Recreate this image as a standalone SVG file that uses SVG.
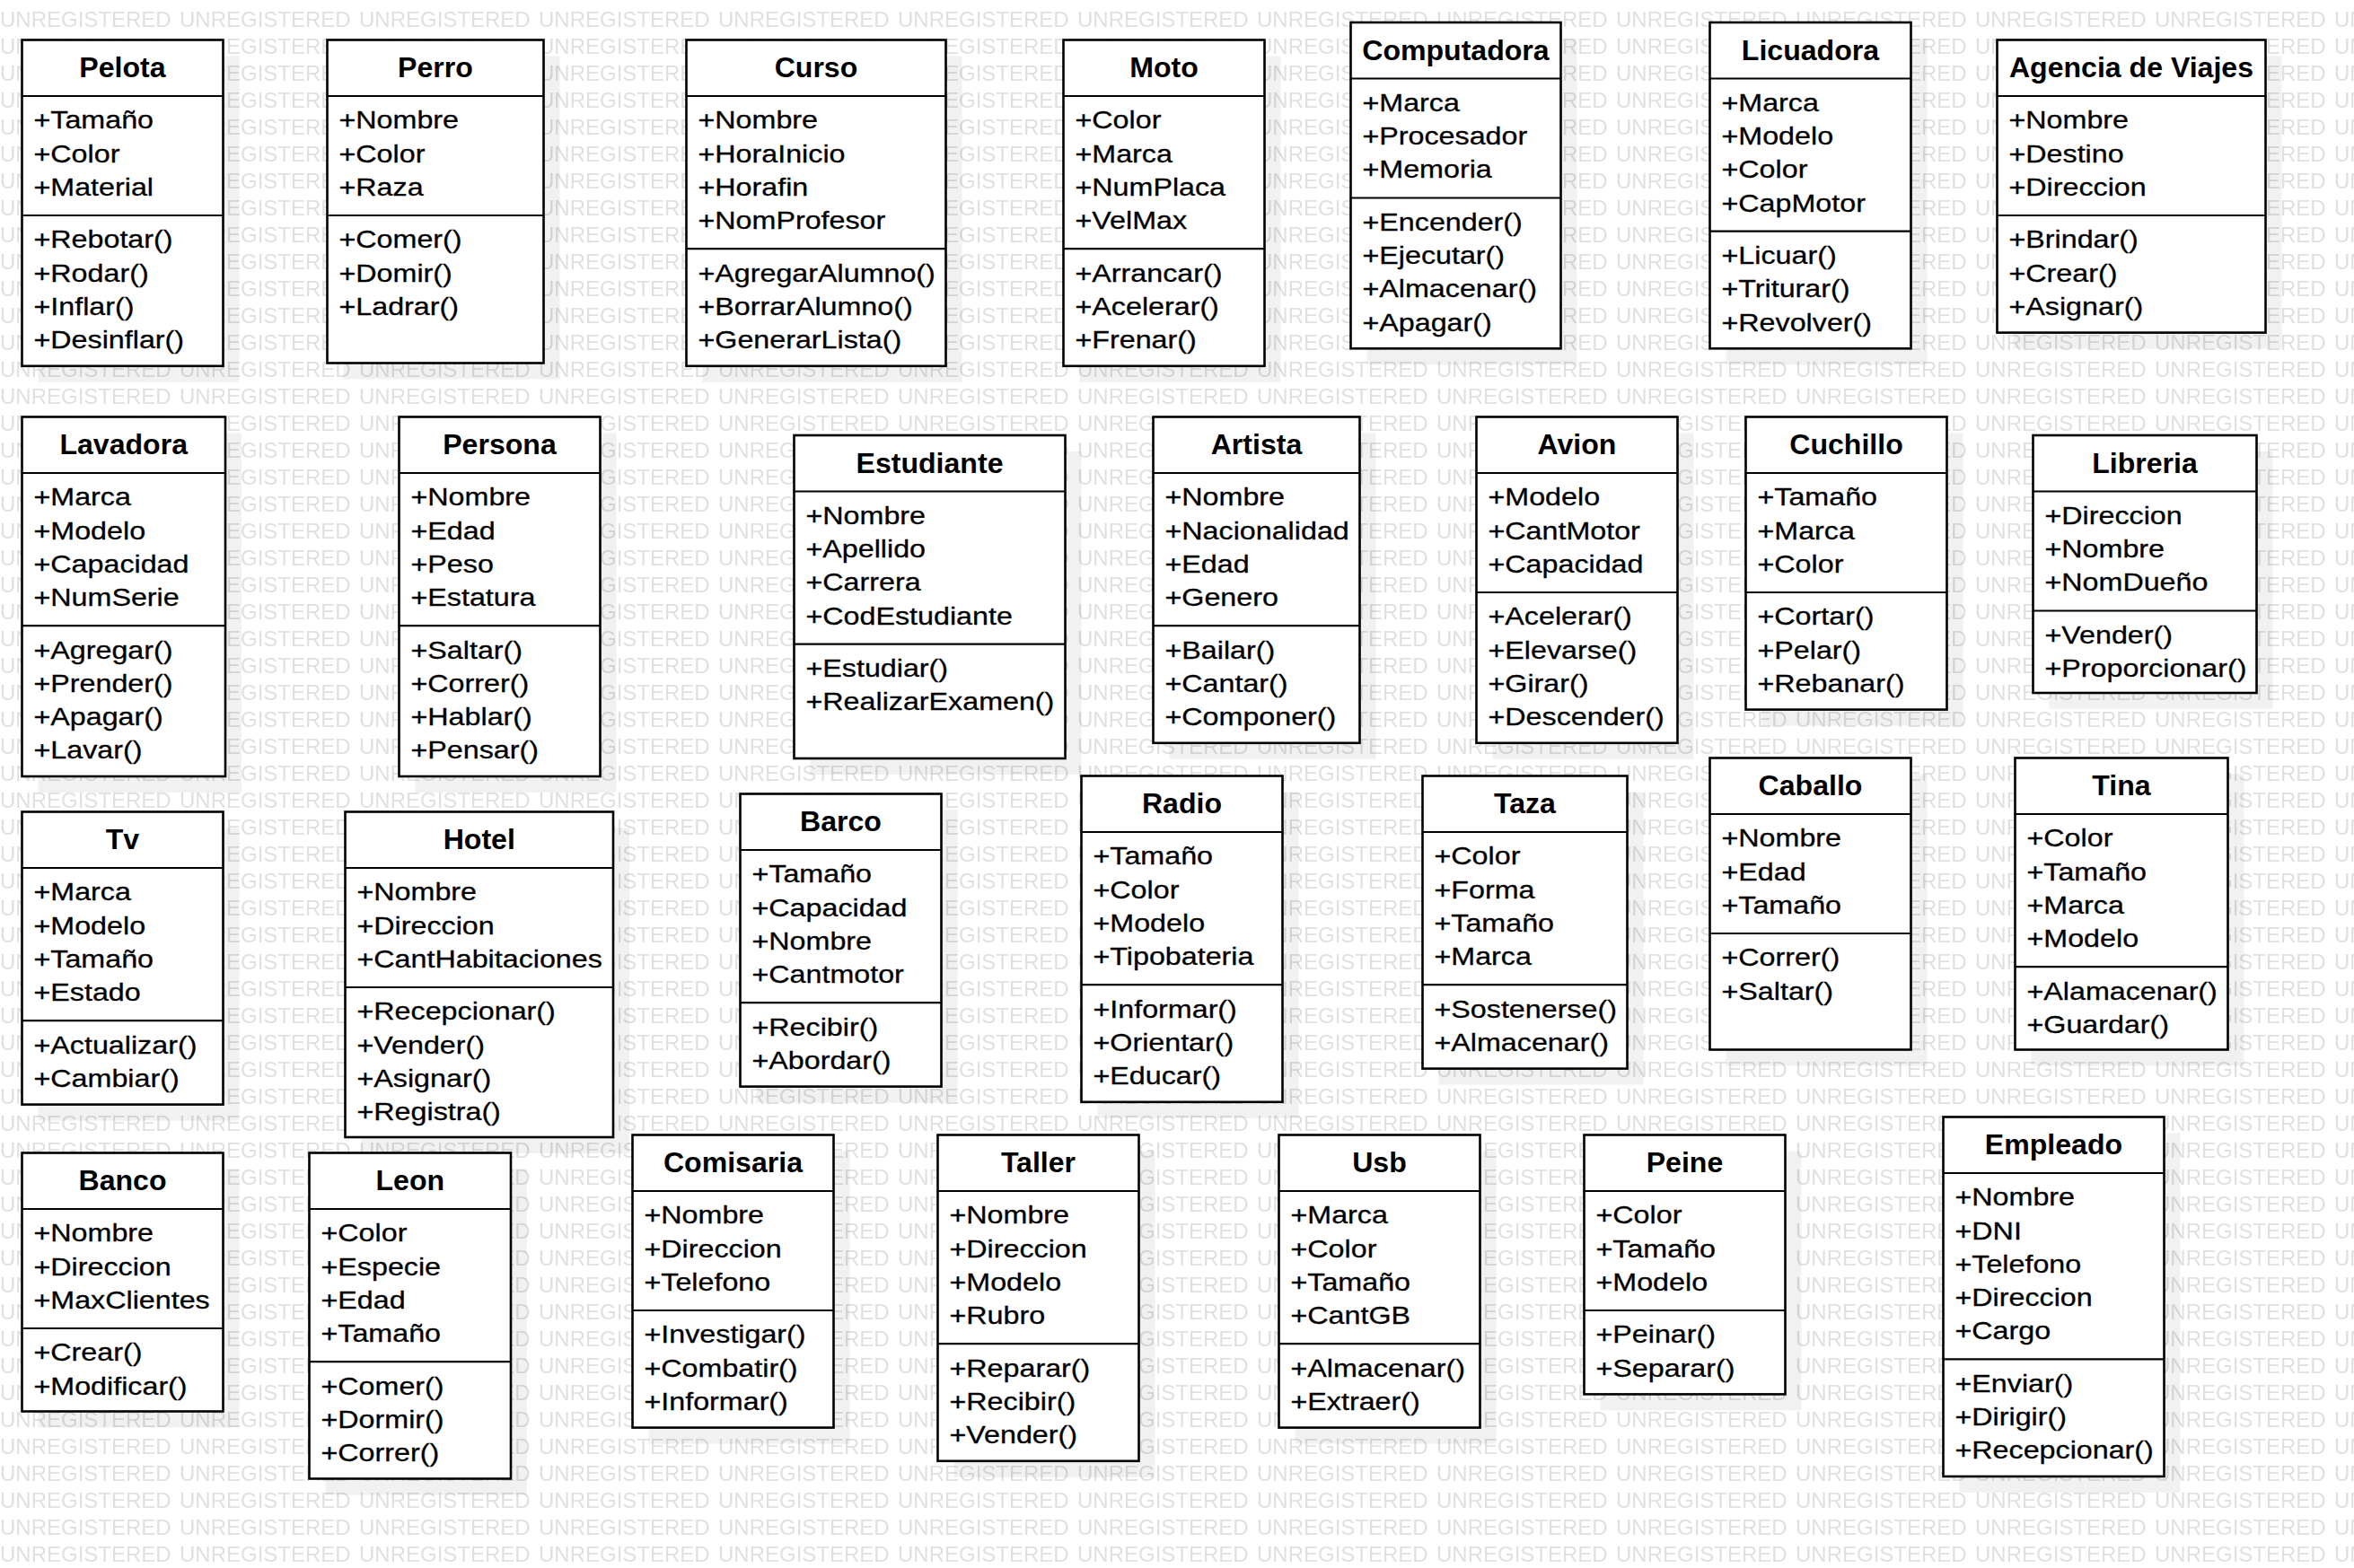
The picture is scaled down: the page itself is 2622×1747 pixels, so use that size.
<svg xmlns="http://www.w3.org/2000/svg" width="2622" height="1747" viewBox="0 0 2622 1747">
<defs>
<style>
.box{fill:#fff;stroke:#000;stroke-width:2.6}
.sh{fill:#000;fill-opacity:.055}
.sep{stroke:#000;stroke-width:2.2;fill:none}
.t{font-family:"Liberation Sans",Arial,sans-serif;font-size:31px;font-weight:bold;text-anchor:middle;fill:#000}
.a{font-family:"Liberation Sans",Arial,sans-serif;font-size:28.3px;fill:#000;stroke:#000;stroke-width:0.3}
.wm{font-family:"Liberation Sans",Arial,sans-serif;font-size:24px;fill:#e0e0e0}
</style>
<pattern id="wm" patternUnits="userSpaceOnUse" x="0" y="0" width="200" height="30">
<text class="wm" x="0" y="30">UNREGISTERED</text>
</pattern>
</defs>
<rect width="2622" height="1747" fill="#fff"/>
<rect width="2622" height="1747" fill="url(#wm)"/>
<g id="connectors"/>

<g id="pelota" transform="translate(24.5,44.5)">
<rect class="sh" x="18" y="18" width="224" height="363.3"/><rect class="box" width="224" height="363.3"/>
<path class="sep" d="M0 62.5H224M0 195.5H224"/>
<text class="t" transform="scale(1.035,1)" x="108.2" y="42">Pelota</text>
<text class="a" transform="scale(1.14,1)"><tspan x="11.4" y="99">+Tamaño</tspan><tspan x="11.4" y="136.2">+Color</tspan><tspan x="11.4" y="173.4">+Material</tspan><tspan x="11.4" y="232">+Rebotar()</tspan><tspan x="11.4" y="269.2">+Rodar()</tspan><tspan x="11.4" y="306.4">+Inflar()</tspan><tspan x="11.4" y="343.6">+Desinflar()</tspan></text>
</g>

<g id="perro" transform="translate(364.5,44.5)">
<rect class="sh" x="18" y="18" width="241" height="360"/><rect class="box" width="241" height="360"/>
<path class="sep" d="M0 62.5H241M0 195.5H241"/>
<text class="t" transform="scale(1.035,1)" x="116.4" y="42">Perro</text>
<text class="a" transform="scale(1.14,1)"><tspan x="11.4" y="99">+Nombre</tspan><tspan x="11.4" y="136.2">+Color</tspan><tspan x="11.4" y="173.4">+Raza</tspan><tspan x="11.4" y="232">+Comer()</tspan><tspan x="11.4" y="269.2">+Domir()</tspan><tspan x="11.4" y="306.4">+Ladrar()</tspan></text>
</g>

<g id="curso" transform="translate(764.5,44.5)">
<rect class="sh" x="18" y="18" width="289" height="363.3"/><rect class="box" width="289" height="363.3"/>
<path class="sep" d="M0 62.5H289M0 232.7H289"/>
<text class="t" transform="scale(1.035,1)" x="139.6" y="42">Curso</text>
<text class="a" transform="scale(1.14,1)"><tspan x="11.4" y="99">+Nombre</tspan><tspan x="11.4" y="136.2">+HoraInicio</tspan><tspan x="11.4" y="173.4">+Horafin</tspan><tspan x="11.4" y="210.6">+NomProfesor</tspan><tspan x="11.4" y="269.2">+AgregarAlumno()</tspan><tspan x="11.4" y="306.4">+BorrarAlumno()</tspan><tspan x="11.4" y="343.6">+GenerarLista()</tspan></text>
</g>

<g id="moto" transform="translate(1184.5,44.5)">
<rect class="sh" x="18" y="18" width="224" height="363.3"/><rect class="box" width="224" height="363.3"/>
<path class="sep" d="M0 62.5H224M0 232.7H224"/>
<text class="t" transform="scale(1.035,1)" x="108.2" y="42">Moto</text>
<text class="a" transform="scale(1.14,1)"><tspan x="11.4" y="99">+Color</tspan><tspan x="11.4" y="136.2">+Marca</tspan><tspan x="11.4" y="173.4">+NumPlaca</tspan><tspan x="11.4" y="210.6">+VelMax</tspan><tspan x="11.4" y="269.2">+Arrancar()</tspan><tspan x="11.4" y="306.4">+Acelerar()</tspan><tspan x="11.4" y="343.6">+Frenar()</tspan></text>
</g>

<g id="computadora" transform="translate(1504.5,25)">
<rect class="sh" x="18" y="18" width="234" height="363.3"/><rect class="box" width="234" height="363.3"/>
<path class="sep" d="M0 62.5H234M0 195.5H234"/>
<text class="t" transform="scale(1.035,1)" x="113" y="42">Computadora</text>
<text class="a" transform="scale(1.14,1)"><tspan x="11.4" y="99">+Marca</tspan><tspan x="11.4" y="136.2">+Procesador</tspan><tspan x="11.4" y="173.4">+Memoria</tspan><tspan x="11.4" y="232">+Encender()</tspan><tspan x="11.4" y="269.2">+Ejecutar()</tspan><tspan x="11.4" y="306.4">+Almacenar()</tspan><tspan x="11.4" y="343.6">+Apagar()</tspan></text>
</g>

<g id="licuadora" transform="translate(1904.5,25)">
<rect class="sh" x="18" y="18" width="224" height="363.3"/><rect class="box" width="224" height="363.3"/>
<path class="sep" d="M0 62.5H224M0 232.7H224"/>
<text class="t" transform="scale(1.035,1)" x="108.2" y="42">Licuadora</text>
<text class="a" transform="scale(1.14,1)"><tspan x="11.4" y="99">+Marca</tspan><tspan x="11.4" y="136.2">+Modelo</tspan><tspan x="11.4" y="173.4">+Color</tspan><tspan x="11.4" y="210.6">+CapMotor</tspan><tspan x="11.4" y="269.2">+Licuar()</tspan><tspan x="11.4" y="306.4">+Triturar()</tspan><tspan x="11.4" y="343.6">+Revolver()</tspan></text>
</g>

<g id="agencia-de-viajes" transform="translate(2224.5,44.5)">
<rect class="sh" x="18" y="18" width="299" height="326.1"/><rect class="box" width="299" height="326.1"/>
<path class="sep" d="M0 62.5H299M0 195.5H299"/>
<text class="t" transform="scale(1.035,1)" x="144.4" y="42">Agencia de Viajes</text>
<text class="a" transform="scale(1.14,1)"><tspan x="11.4" y="99">+Nombre</tspan><tspan x="11.4" y="136.2">+Destino</tspan><tspan x="11.4" y="173.4">+Direccion</tspan><tspan x="11.4" y="232">+Brindar()</tspan><tspan x="11.4" y="269.2">+Crear()</tspan><tspan x="11.4" y="306.4">+Asignar()</tspan></text>
</g>

<g id="lavadora" transform="translate(24.5,464.5)">
<rect class="sh" x="18" y="18" width="226.5" height="400.5"/><rect class="box" width="226.5" height="400.5"/>
<path class="sep" d="M0 62.5H226.5M0 232.7H226.5"/>
<text class="t" transform="scale(1.035,1)" x="109.4" y="42">Lavadora</text>
<text class="a" transform="scale(1.14,1)"><tspan x="11.4" y="99">+Marca</tspan><tspan x="11.4" y="136.2">+Modelo</tspan><tspan x="11.4" y="173.4">+Capacidad</tspan><tspan x="11.4" y="210.6">+NumSerie</tspan><tspan x="11.4" y="269.2">+Agregar()</tspan><tspan x="11.4" y="306.4">+Prender()</tspan><tspan x="11.4" y="343.6">+Apagar()</tspan><tspan x="11.4" y="380.8">+Lavar()</tspan></text>
</g>

<g id="persona" transform="translate(444.5,464.5)">
<rect class="sh" x="18" y="18" width="224" height="400.5"/><rect class="box" width="224" height="400.5"/>
<path class="sep" d="M0 62.5H224M0 232.7H224"/>
<text class="t" transform="scale(1.035,1)" x="108.2" y="42">Persona</text>
<text class="a" transform="scale(1.14,1)"><tspan x="11.4" y="99">+Nombre</tspan><tspan x="11.4" y="136.2">+Edad</tspan><tspan x="11.4" y="173.4">+Peso</tspan><tspan x="11.4" y="210.6">+Estatura</tspan><tspan x="11.4" y="269.2">+Saltar()</tspan><tspan x="11.4" y="306.4">+Correr()</tspan><tspan x="11.4" y="343.6">+Hablar()</tspan><tspan x="11.4" y="380.8">+Pensar()</tspan></text>
</g>

<g id="estudiante" transform="translate(884.5,485)">
<rect class="sh" x="18" y="18" width="302" height="360"/><rect class="box" width="302" height="360"/>
<path class="sep" d="M0 62.5H302M0 232.7H302"/>
<text class="t" transform="scale(1.035,1)" x="145.9" y="42">Estudiante</text>
<text class="a" transform="scale(1.14,1)"><tspan x="11.4" y="99">+Nombre</tspan><tspan x="11.4" y="136.2">+Apellido</tspan><tspan x="11.4" y="173.4">+Carrera</tspan><tspan x="11.4" y="210.6">+CodEstudiante</tspan><tspan x="11.4" y="269.2">+Estudiar()</tspan><tspan x="11.4" y="306.4">+RealizarExamen()</tspan></text>
</g>

<g id="artista" transform="translate(1284.5,464.5)">
<rect class="sh" x="18" y="18" width="230" height="363.3"/><rect class="box" width="230" height="363.3"/>
<path class="sep" d="M0 62.5H230M0 232.7H230"/>
<text class="t" transform="scale(1.035,1)" x="111.1" y="42">Artista</text>
<text class="a" transform="scale(1.14,1)"><tspan x="11.4" y="99">+Nombre</tspan><tspan x="11.4" y="136.2">+Nacionalidad</tspan><tspan x="11.4" y="173.4">+Edad</tspan><tspan x="11.4" y="210.6">+Genero</tspan><tspan x="11.4" y="269.2">+Bailar()</tspan><tspan x="11.4" y="306.4">+Cantar()</tspan><tspan x="11.4" y="343.6">+Componer()</tspan></text>
</g>

<g id="avion" transform="translate(1644.5,464.5)">
<rect class="sh" x="18" y="18" width="224" height="363.3"/><rect class="box" width="224" height="363.3"/>
<path class="sep" d="M0 62.5H224M0 195.5H224"/>
<text class="t" transform="scale(1.035,1)" x="108.2" y="42">Avion</text>
<text class="a" transform="scale(1.14,1)"><tspan x="11.4" y="99">+Modelo</tspan><tspan x="11.4" y="136.2">+CantMotor</tspan><tspan x="11.4" y="173.4">+Capacidad</tspan><tspan x="11.4" y="232">+Acelerar()</tspan><tspan x="11.4" y="269.2">+Elevarse()</tspan><tspan x="11.4" y="306.4">+Girar()</tspan><tspan x="11.4" y="343.6">+Descender()</tspan></text>
</g>

<g id="cuchillo" transform="translate(1944.5,464.5)">
<rect class="sh" x="18" y="18" width="224" height="326.1"/><rect class="box" width="224" height="326.1"/>
<path class="sep" d="M0 62.5H224M0 195.5H224"/>
<text class="t" transform="scale(1.035,1)" x="108.2" y="42">Cuchillo</text>
<text class="a" transform="scale(1.14,1)"><tspan x="11.4" y="99">+Tamaño</tspan><tspan x="11.4" y="136.2">+Marca</tspan><tspan x="11.4" y="173.4">+Color</tspan><tspan x="11.4" y="232">+Cortar()</tspan><tspan x="11.4" y="269.2">+Pelar()</tspan><tspan x="11.4" y="306.4">+Rebanar()</tspan></text>
</g>

<g id="libreria" transform="translate(2264.5,485)">
<rect class="sh" x="18" y="18" width="249" height="287"/><rect class="box" width="249" height="287"/>
<path class="sep" d="M0 62.5H249M0 195.5H249"/>
<text class="t" transform="scale(1.035,1)" x="120.3" y="42">Libreria</text>
<text class="a" transform="scale(1.14,1)"><tspan x="11.4" y="99">+Direccion</tspan><tspan x="11.4" y="136.2">+Nombre</tspan><tspan x="11.4" y="173.4">+NomDueño</tspan><tspan x="11.4" y="232">+Vender()</tspan><tspan x="11.4" y="269.2">+Proporcionar()</tspan></text>
</g>

<g id="tv" transform="translate(24.5,904.5)">
<rect class="sh" x="18" y="18" width="224" height="326.1"/><rect class="box" width="224" height="326.1"/>
<path class="sep" d="M0 62.5H224M0 232.7H224"/>
<text class="t" transform="scale(1.035,1)" x="108.2" y="42">Tv</text>
<text class="a" transform="scale(1.14,1)"><tspan x="11.4" y="99">+Marca</tspan><tspan x="11.4" y="136.2">+Modelo</tspan><tspan x="11.4" y="173.4">+Tamaño</tspan><tspan x="11.4" y="210.6">+Estado</tspan><tspan x="11.4" y="269.2">+Actualizar()</tspan><tspan x="11.4" y="306.4">+Cambiar()</tspan></text>
</g>

<g id="hotel" transform="translate(384.5,904.5)">
<rect class="sh" x="18" y="18" width="298.5" height="362.5"/><rect class="box" width="298.5" height="362.5"/>
<path class="sep" d="M0 62.5H298.5M0 195.5H298.5"/>
<text class="t" transform="scale(1.035,1)" x="144.2" y="42">Hotel</text>
<text class="a" transform="scale(1.14,1)"><tspan x="11.4" y="99">+Nombre</tspan><tspan x="11.4" y="136.2">+Direccion</tspan><tspan x="11.4" y="173.4">+CantHabitaciones</tspan><tspan x="11.4" y="232">+Recepcionar()</tspan><tspan x="11.4" y="269.2">+Vender()</tspan><tspan x="11.4" y="306.4">+Asignar()</tspan><tspan x="11.4" y="343.6">+Registra()</tspan></text>
</g>

<g id="barco" transform="translate(824.5,884.5)">
<rect class="sh" x="18" y="18" width="224" height="326.1"/><rect class="box" width="224" height="326.1"/>
<path class="sep" d="M0 62.5H224M0 232.7H224"/>
<text class="t" transform="scale(1.035,1)" x="108.2" y="42">Barco</text>
<text class="a" transform="scale(1.14,1)"><tspan x="11.4" y="99">+Tamaño</tspan><tspan x="11.4" y="136.2">+Capacidad</tspan><tspan x="11.4" y="173.4">+Nombre</tspan><tspan x="11.4" y="210.6">+Cantmotor</tspan><tspan x="11.4" y="269.2">+Recibir()</tspan><tspan x="11.4" y="306.4">+Abordar()</tspan></text>
</g>

<g id="radio" transform="translate(1204.5,864.5)">
<rect class="sh" x="18" y="18" width="224" height="363.3"/><rect class="box" width="224" height="363.3"/>
<path class="sep" d="M0 62.5H224M0 232.7H224"/>
<text class="t" transform="scale(1.035,1)" x="108.2" y="42">Radio</text>
<text class="a" transform="scale(1.14,1)"><tspan x="11.4" y="99">+Tamaño</tspan><tspan x="11.4" y="136.2">+Color</tspan><tspan x="11.4" y="173.4">+Modelo</tspan><tspan x="11.4" y="210.6">+Tipobateria</tspan><tspan x="11.4" y="269.2">+Informar()</tspan><tspan x="11.4" y="306.4">+Orientar()</tspan><tspan x="11.4" y="343.6">+Educar()</tspan></text>
</g>

<g id="taza" transform="translate(1584.5,864.5)">
<rect class="sh" x="18" y="18" width="228" height="326.1"/><rect class="box" width="228" height="326.1"/>
<path class="sep" d="M0 62.5H228M0 232.7H228"/>
<text class="t" transform="scale(1.035,1)" x="110.1" y="42">Taza</text>
<text class="a" transform="scale(1.14,1)"><tspan x="11.4" y="99">+Color</tspan><tspan x="11.4" y="136.2">+Forma</tspan><tspan x="11.4" y="173.4">+Tamaño</tspan><tspan x="11.4" y="210.6">+Marca</tspan><tspan x="11.4" y="269.2">+Sostenerse()</tspan><tspan x="11.4" y="306.4">+Almacenar()</tspan></text>
</g>

<g id="caballo" transform="translate(1904.5,844.5)">
<rect class="sh" x="18" y="18" width="224" height="325"/><rect class="box" width="224" height="325"/>
<path class="sep" d="M0 62.5H224M0 195.5H224"/>
<text class="t" transform="scale(1.035,1)" x="108.2" y="42">Caballo</text>
<text class="a" transform="scale(1.14,1)"><tspan x="11.4" y="99">+Nombre</tspan><tspan x="11.4" y="136.2">+Edad</tspan><tspan x="11.4" y="173.4">+Tamaño</tspan><tspan x="11.4" y="232">+Correr()</tspan><tspan x="11.4" y="269.2">+Saltar()</tspan></text>
</g>

<g id="tina" transform="translate(2244.5,844.5)">
<rect class="sh" x="18" y="18" width="237" height="325"/><rect class="box" width="237" height="325"/>
<path class="sep" d="M0 62.5H237M0 232.7H237"/>
<text class="t" transform="scale(1.035,1)" x="114.5" y="42">Tina</text>
<text class="a" transform="scale(1.14,1)"><tspan x="11.4" y="99">+Color</tspan><tspan x="11.4" y="136.2">+Tamaño</tspan><tspan x="11.4" y="173.4">+Marca</tspan><tspan x="11.4" y="210.6">+Modelo</tspan><tspan x="11.4" y="269.2">+Alamacenar()</tspan><tspan x="11.4" y="306.4">+Guardar()</tspan></text>
</g>

<g id="banco" transform="translate(24.5,1284.5)">
<rect class="sh" x="18" y="18" width="224" height="288"/><rect class="box" width="224" height="288"/>
<path class="sep" d="M0 62.5H224M0 195.5H224"/>
<text class="t" transform="scale(1.035,1)" x="108.2" y="42">Banco</text>
<text class="a" transform="scale(1.14,1)"><tspan x="11.4" y="99">+Nombre</tspan><tspan x="11.4" y="136.2">+Direccion</tspan><tspan x="11.4" y="173.4">+MaxClientes</tspan><tspan x="11.4" y="232">+Crear()</tspan><tspan x="11.4" y="269.2">+Modificar()</tspan></text>
</g>

<g id="leon" transform="translate(344.5,1284.5)">
<rect class="sh" x="18" y="18" width="224.5" height="363"/><rect class="box" width="224.5" height="363"/>
<path class="sep" d="M0 62.5H224.5M0 232.7H224.5"/>
<text class="t" transform="scale(1.035,1)" x="108.5" y="42">Leon</text>
<text class="a" transform="scale(1.14,1)"><tspan x="11.4" y="99">+Color</tspan><tspan x="11.4" y="136.2">+Especie</tspan><tspan x="11.4" y="173.4">+Edad</tspan><tspan x="11.4" y="210.6">+Tamaño</tspan><tspan x="11.4" y="269.2">+Comer()</tspan><tspan x="11.4" y="306.4">+Dormir()</tspan><tspan x="11.4" y="343.6">+Correr()</tspan></text>
</g>

<g id="comisaria" transform="translate(704.5,1264.5)">
<rect class="sh" x="18" y="18" width="224" height="326.1"/><rect class="box" width="224" height="326.1"/>
<path class="sep" d="M0 62.5H224M0 195.5H224"/>
<text class="t" transform="scale(1.035,1)" x="108.2" y="42">Comisaria</text>
<text class="a" transform="scale(1.14,1)"><tspan x="11.4" y="99">+Nombre</tspan><tspan x="11.4" y="136.2">+Direccion</tspan><tspan x="11.4" y="173.4">+Telefono</tspan><tspan x="11.4" y="232">+Investigar()</tspan><tspan x="11.4" y="269.2">+Combatir()</tspan><tspan x="11.4" y="306.4">+Informar()</tspan></text>
</g>

<g id="taller" transform="translate(1044.5,1264.5)">
<rect class="sh" x="18" y="18" width="224" height="363.3"/><rect class="box" width="224" height="363.3"/>
<path class="sep" d="M0 62.5H224M0 232.7H224"/>
<text class="t" transform="scale(1.035,1)" x="108.2" y="42">Taller</text>
<text class="a" transform="scale(1.14,1)"><tspan x="11.4" y="99">+Nombre</tspan><tspan x="11.4" y="136.2">+Direccion</tspan><tspan x="11.4" y="173.4">+Modelo</tspan><tspan x="11.4" y="210.6">+Rubro</tspan><tspan x="11.4" y="269.2">+Reparar()</tspan><tspan x="11.4" y="306.4">+Recibir()</tspan><tspan x="11.4" y="343.6">+Vender()</tspan></text>
</g>

<g id="usb" transform="translate(1424.5,1264.5)">
<rect class="sh" x="18" y="18" width="224" height="326.1"/><rect class="box" width="224" height="326.1"/>
<path class="sep" d="M0 62.5H224M0 232.7H224"/>
<text class="t" transform="scale(1.035,1)" x="108.2" y="42">Usb</text>
<text class="a" transform="scale(1.14,1)"><tspan x="11.4" y="99">+Marca</tspan><tspan x="11.4" y="136.2">+Color</tspan><tspan x="11.4" y="173.4">+Tamaño</tspan><tspan x="11.4" y="210.6">+CantGB</tspan><tspan x="11.4" y="269.2">+Almacenar()</tspan><tspan x="11.4" y="306.4">+Extraer()</tspan></text>
</g>

<g id="peine" transform="translate(1764.5,1264.5)">
<rect class="sh" x="18" y="18" width="224" height="288.9"/><rect class="box" width="224" height="288.9"/>
<path class="sep" d="M0 62.5H224M0 195.5H224"/>
<text class="t" transform="scale(1.035,1)" x="108.2" y="42">Peine</text>
<text class="a" transform="scale(1.14,1)"><tspan x="11.4" y="99">+Color</tspan><tspan x="11.4" y="136.2">+Tamaño</tspan><tspan x="11.4" y="173.4">+Modelo</tspan><tspan x="11.4" y="232">+Peinar()</tspan><tspan x="11.4" y="269.2">+Separar()</tspan></text>
</g>

<g id="empleado" transform="translate(2164.5,1244.5)">
<rect class="sh" x="18" y="18" width="246" height="400.5"/><rect class="box" width="246" height="400.5"/>
<path class="sep" d="M0 62.5H246M0 269.9H246"/>
<text class="t" transform="scale(1.035,1)" x="118.8" y="42">Empleado</text>
<text class="a" transform="scale(1.14,1)"><tspan x="11.4" y="99">+Nombre</tspan><tspan x="11.4" y="136.2">+DNI</tspan><tspan x="11.4" y="173.4">+Telefono</tspan><tspan x="11.4" y="210.6">+Direccion</tspan><tspan x="11.4" y="247.8">+Cargo</tspan><tspan x="11.4" y="306.4">+Enviar()</tspan><tspan x="11.4" y="343.6">+Dirigir()</tspan><tspan x="11.4" y="380.8">+Recepcionar()</tspan></text>
</g>
</svg>
